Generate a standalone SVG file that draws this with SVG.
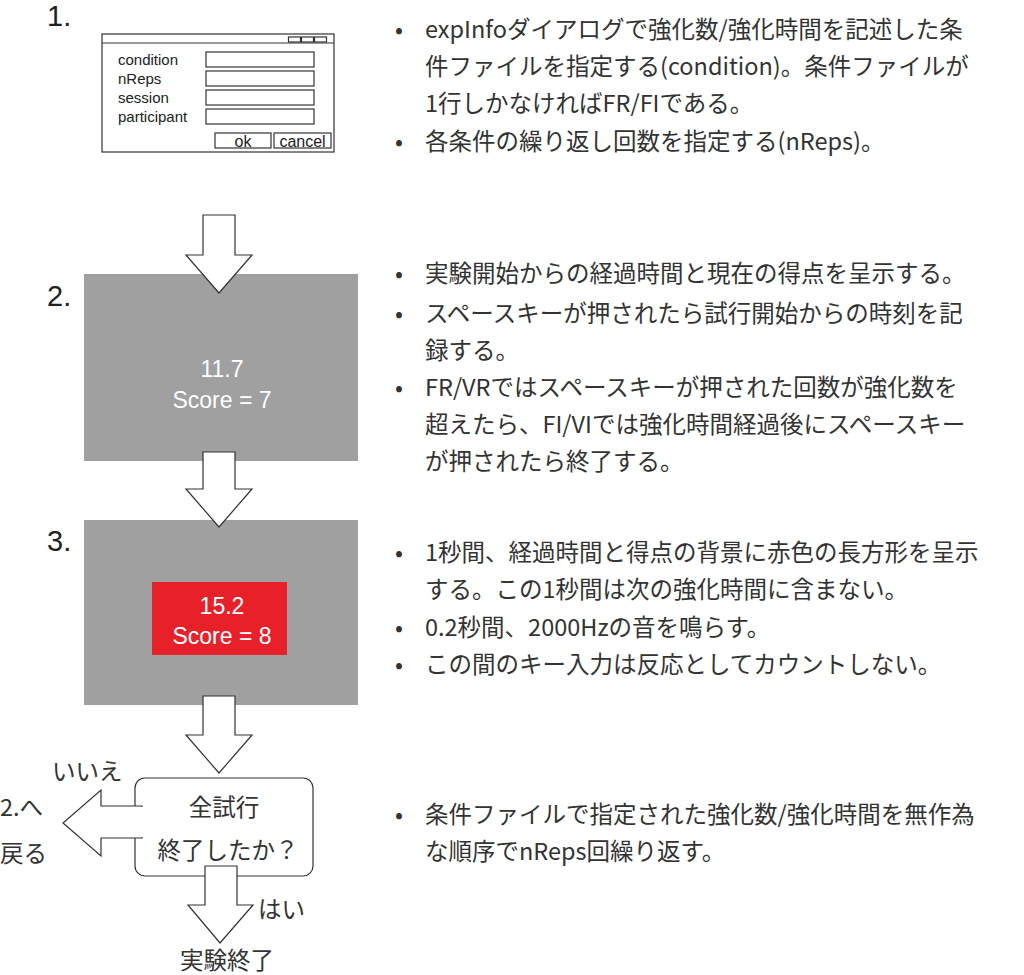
<svg xmlns="http://www.w3.org/2000/svg" width="1024" height="975" viewBox="0 0 1024 975">
<style>
.t{font-family:"Noto Sans CJK JP","Noto Sans",sans-serif;fill:#333;font-size:23.5px}
.a{font-family:"Liberation Sans",Arial,sans-serif;fill:#222}
.ln{fill:#fff;stroke:#333;stroke-width:1.2}
.w{font-family:"Liberation Sans",Arial,sans-serif;fill:#fff;font-size:23px;text-anchor:middle}
</style>
<rect width="1024" height="975" fill="#fff"/>
<g id="dialog">
<text class="a" x="47" y="26" font-size="29">1.</text>
<rect class="ln" x="102" y="34" width="232" height="118"/>
<line x1="102" y1="43" x2="334" y2="43" stroke="#333"/>
<rect class="ln" x="288.5" y="37" width="12" height="5"/><rect class="ln" x="301.5" y="37" width="12" height="5"/><rect class="ln" x="314.5" y="37" width="12" height="5"/>
<g class="a" font-size="15"><text x="118" y="65">condition</text><text x="118" y="84">nReps</text><text x="118" y="103">session</text><text x="118" y="122">participant</text></g>
<rect class="ln" x="206" y="52" width="108" height="15"/><rect class="ln" x="206" y="71" width="108" height="15"/><rect class="ln" x="206" y="90" width="108" height="15"/><rect class="ln" x="206" y="109" width="108" height="15"/>
<rect class="ln" x="215" y="133" width="56" height="15"/><rect class="ln" x="274" y="133" width="57" height="15"/>
<text class="a" x="243" y="147" font-size="16" text-anchor="middle">ok</text><text class="a" x="302.5" y="147" font-size="16" text-anchor="middle">cancel</text>
</g>
<g id="screen2">
<text class="a" x="47" y="306" font-size="29">2.</text>
<rect x="84" y="274" width="274" height="187" fill="#a0a0a0"/>
<text class="w" x="222" y="377">11.7</text><text class="w" x="222" y="408">Score = 7</text>
</g>
<g id="screen3">
<text class="a" x="47" y="551" font-size="29">3.</text>
<rect x="84" y="520" width="274" height="185" fill="#a0a0a0"/>
<rect x="152" y="582" width="135" height="73" fill="#e8202a"/>
<text class="w" x="222" y="614">15.2</text><text class="w" x="222" y="644">Score = 8</text>
</g>
<g id="decision">
<rect class="ln" x="135" y="778" width="178" height="98" rx="10"/>
<text class="t" x="224" y="816" text-anchor="middle">全試行</text>
<text class="t" x="228" y="859" text-anchor="middle">終了したか？</text>
</g>
<g id="connectors">
<polygon class="ln" points="203,215 235,215 235,255 252,255 219,293 186,255 203,255"/>
<polygon class="ln" points="203,452 235,452 235,489 252,489 219,527 186,489 203,489"/>
<polygon class="ln" points="203,696 235,696 235,735 252,735 219,773 186,735 203,735"/>
<polygon class="ln" points="142,806 101,806 101,790 63,823 101,856 101,838 142,838"/>
<rect x="136" y="807" width="8" height="30" fill="#fff"/>
<polygon class="ln" points="205,866 237,866 237,905 253,905 220,943 188,905 205,905"/>
<rect x="206" y="867" width="30" height="8" fill="#fff"/>
<text class="t" x="52" y="780">いいえ</text>
<text class="t" x="0" y="816" font-size="28">2.へ</text>
<text class="t" x="0" y="862" font-size="28">戻る</text>
<text class="t" x="258" y="918">はい</text>
<text class="t" x="180" y="969">実験終了</text>
</g>
<g id="notes" class="t">
<text x="395" y="38">•</text><text x="425" y="38">expInfoダイアログで強化数/強化時間を記述した条</text>
<text x="425" y="75">件ファイルを指定する(condition)。条件ファイルが</text>
<text x="425" y="112">1行しかなければFR/FIである。</text>
<text x="395" y="150">•</text><text x="425" y="150">各条件の繰り返し回数を指定する(nReps)。</text>
<text x="395" y="282">•</text><text x="425" y="282">実験開始からの経過時間と現在の得点を呈示する。</text>
<text x="395" y="322">•</text><text x="425" y="322">スペースキーが押されたら試行開始からの時刻を記</text>
<text x="425" y="359">録する。</text>
<text x="395" y="396">•</text><text x="425" y="396">FR/VRではスペースキーが押された回数が強化数を</text>
<text x="425" y="433">超えたら、FI/VIでは強化時間経過後にスペースキー</text>
<text x="425" y="470">が押されたら終了する。</text>
<text x="395" y="561">•</text><text x="425" y="561">1秒間、経過時間と得点の背景に赤色の長方形を呈示</text>
<text x="425" y="598">する。この1秒間は次の強化時間に含まない。</text>
<text x="395" y="636">•</text><text x="425" y="636">0.2秒間、2000Hzの音を鳴らす。</text>
<text x="395" y="673">•</text><text x="425" y="673">この間のキー入力は反応としてカウントしない。</text>
<text x="395" y="823">•</text><text x="425" y="823">条件ファイルで指定された強化数/強化時間を無作為</text>
<text x="425" y="860">な順序でnReps回繰り返す。</text>
</g>
</svg>
